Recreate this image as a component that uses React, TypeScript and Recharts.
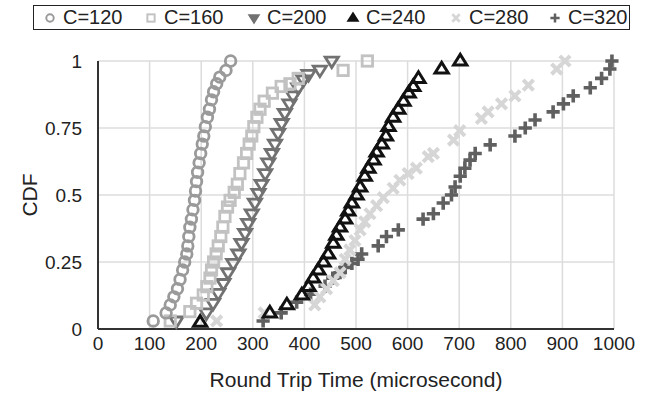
import React from "react";
import { ScatterChart, Scatter, XAxis, YAxis, CartesianGrid } from "recharts";

// CDF samples (x = round trip time in us, y = CDF)
const c120X = [107, 132, 140, 147, 154, 159, 164, 168, 172, 174, 176, 178, 181, 184, 187, 189, 191, 193, 196, 199, 202, 205, 208, 212, 216, 220, 224, 230, 236, 248, 257];
const c120Y = [0.03, 0.06, 0.09, 0.12, 0.15, 0.185, 0.22, 0.25, 0.28, 0.31, 0.345, 0.38, 0.41, 0.445, 0.48, 0.515, 0.55, 0.585, 0.62, 0.655, 0.69, 0.72, 0.755, 0.79, 0.82, 0.855, 0.885, 0.915, 0.94, 0.965, 1];

const c160X = [140, 178, 191, 204, 211, 217, 220, 224, 229, 233, 238, 242, 246, 251, 256, 264, 270, 275, 282, 288, 293, 298, 302, 308, 314, 322, 338, 355, 372, 388, 475, 522];
const c160Y = [0.03, 0.065, 0.096, 0.127, 0.158, 0.19, 0.22, 0.25, 0.28, 0.31, 0.345, 0.38, 0.42, 0.455, 0.48, 0.51, 0.54, 0.58, 0.62, 0.655, 0.69, 0.72, 0.755, 0.79, 0.82, 0.85, 0.88, 0.905, 0.915, 0.935, 0.965, 1];

const c200X = [152, 210, 223, 233, 243, 252, 262, 272, 278, 285, 291, 298, 304, 311, 317, 324, 330, 337, 343, 349, 356, 362, 371, 378, 388, 398, 408, 430, 453];
const c200Y = [0.03, 0.06, 0.096, 0.133, 0.17, 0.21, 0.245, 0.28, 0.32, 0.357, 0.394, 0.43, 0.47, 0.506, 0.54, 0.58, 0.62, 0.655, 0.69, 0.73, 0.767, 0.805, 0.84, 0.87, 0.9, 0.93, 0.95, 0.966, 1];

const c240X = [198, 333, 366, 395, 408, 417, 427, 437, 446, 456, 462, 469, 479, 485, 492, 501, 508, 517, 524, 534, 540, 550, 558, 563, 572, 582, 592, 602, 611, 621, 666, 702];
const c240Y = [0.025, 0.06, 0.09, 0.127, 0.158, 0.19, 0.22, 0.25, 0.28, 0.32, 0.35, 0.38, 0.41, 0.44, 0.47, 0.5, 0.53, 0.57, 0.6, 0.63, 0.66, 0.69, 0.72, 0.755, 0.79, 0.82, 0.85, 0.88, 0.905, 0.935, 0.97, 1];

const c280X = [230, 322, 420, 430, 443, 456, 469, 479, 488, 498, 508, 517, 527, 540, 553, 572, 585, 601, 617, 640, 650, 689, 701, 743, 756, 782, 808, 834, 889, 905];
const c280Y = [0.03, 0.06, 0.09, 0.12, 0.15, 0.18, 0.21, 0.26, 0.295, 0.33, 0.37, 0.4, 0.43, 0.46, 0.49, 0.525, 0.555, 0.58, 0.6, 0.643, 0.655, 0.705, 0.74, 0.786, 0.81, 0.84, 0.87, 0.91, 0.97, 1];

const c320X = [320, 355, 385, 412, 440, 455, 469, 479, 492, 504, 511, 543, 559, 582, 630, 650, 669, 685, 692, 702, 711, 721, 731, 760, 808, 828, 847, 882, 902, 921, 954, 976, 992, 996];
const c320Y = [0.03, 0.06, 0.1, 0.13, 0.16, 0.19, 0.21, 0.23, 0.245, 0.26, 0.28, 0.31, 0.345, 0.37, 0.41, 0.43, 0.47, 0.5, 0.53, 0.57, 0.6, 0.63, 0.655, 0.687, 0.72, 0.75, 0.78, 0.81, 0.84, 0.87, 0.9, 0.935, 0.97, 1];

const xTicks = [0, 100, 200, 300, 400, 500, 600, 700, 800, 900, 1000];
const yTicks = [0, 0.25, 0.5, 0.75, 1];

const FONT = '"Liberation Sans", Arial, Helvetica, sans-serif';

type Kind = "circle" | "square" | "down" | "up" | "cross" | "plus";

const series: { name: string; xs: number[]; ys: number[]; color: string; kind: Kind }[] = [
  { name: "C=120", xs: c120X, ys: c120Y, color: "#9a9a9a", kind: "circle" },
  { name: "C=160", xs: c160X, ys: c160Y, color: "#c2c2c2", kind: "square" },
  { name: "C=200", xs: c200X, ys: c200Y, color: "#727272", kind: "down" },
  { name: "C=240", xs: c240X, ys: c240Y, color: "#111111", kind: "up" },
  { name: "C=280", xs: c280X, ys: c280Y, color: "#d6d6d6", kind: "cross" },
  { name: "C=320", xs: c320X, ys: c320Y, color: "#606060", kind: "plus" },
];

function Marker({ cx, cy, kind, color, s = 1, filled = false }: { cx: number; cy: number; kind: Kind; color: string; s?: number; filled?: boolean }) {
  if (cx == null || cy == null) return null;
  const fill = filled ? color : "none";
  switch (kind) {
    case "circle":
      return <circle cx={cx} cy={cy} r={5.3 * s} fill={fill} stroke={color} strokeWidth={2.8 * s} />;
    case "square":
      return <rect x={cx - 5.2 * s} y={cy - 5.2 * s} width={10.4 * s} height={10.4 * s} fill={fill} stroke={color} strokeWidth={2.8 * s} />;
    case "down": {
      const r = 6.6 * s;
      return <polygon points={`${cx - r},${cy - r * 0.6} ${cx + r},${cy - r * 0.6} ${cx},${cy + r}`} fill={fill} stroke={color} strokeWidth={2.8 * s} strokeLinejoin="miter" />;
    }
    case "up": {
      const r = 6.6 * s;
      return <polygon points={`${cx - r},${cy + r * 0.6} ${cx + r},${cy + r * 0.6} ${cx},${cy - r}`} fill={fill} stroke={color} strokeWidth={3 * s} strokeLinejoin="miter" />;
    }
    case "cross": {
      const r = 5.2 * s;
      return <path d={`M${cx - r},${cy - r}L${cx + r},${cy + r}M${cx - r},${cy + r}L${cx + r},${cy - r}`} stroke={color} strokeWidth={4 * s} />;
    }
    case "plus": {
      const r = 6.6 * s;
      return <path d={`M${cx - r},${cy}L${cx + r},${cy}M${cx},${cy - r}L${cx},${cy + r}`} stroke={color} strokeWidth={3.6 * s} />;
    }
  }
  return null;
}

const legendIconX = [49, 150, 253, 352, 455, 554];

export default function App() {
  return (
    <div style={{ position: "absolute", left: 0, top: 0, width: 646, height: 394, background: "#fff", fontFamily: FONT }}>
      <ScatterChart width={646} height={394} margin={{ top: 61, right: 32, left: 0, bottom: 0 }}>
        <CartesianGrid stroke="#dcdcdc" strokeWidth={1.5} />
        <XAxis
          type="number"
          dataKey="x"
          domain={[0, 1000]}
          ticks={xTicks}
          interval={0}
          height={65}
          axisLine={{ stroke: "#333", strokeWidth: 2 }}
          tickLine={false}
          tick={{ fill: "#222", fontSize: 19, fontFamily: FONT }}
          tickMargin={2}
          label={{ value: "Round Trip Time (microsecond)", position: "insideBottom", offset: 7, fill: "#222", fontSize: 21, fontFamily: FONT }}
        />
        <YAxis
          type="number"
          dataKey="y"
          domain={[0, 1]}
          ticks={yTicks}
          interval={0}
          width={98}
          axisLine={{ stroke: "#333", strokeWidth: 2 }}
          tickLine={false}
          tick={{ fill: "#222", fontSize: 19, fontFamily: FONT }}
          tickMargin={10}
          label={{
            value: "CDF",
            content: () => (
              <text x={29} y={195} transform="rotate(-90 29 195)" textAnchor="middle" dominantBaseline="central" fill="#222" fontSize={21} fontFamily={FONT}>
                CDF
              </text>
            ),
          }}
        />
        {[...series].reverse().map((sr) => (
          <Scatter
            key={sr.name}
            name={sr.name}
            data={sr.xs.map((x, i) => ({ x, y: sr.ys[i] }))}
            isAnimationActive={false}
            shape={(p: any) => <Marker cx={p.cx} cy={p.cy} kind={sr.kind} color={sr.color} />}
          />
        ))}
      </ScatterChart>
      <div style={{ position: "absolute", left: 33, top: 5, width: 595, height: 23, border: "1.5px solid #222" }}>
        {series.map((sr, i) => (
          <React.Fragment key={sr.name}>
            <svg style={{ position: "absolute", left: legendIconX[i] - 33 - 8, top: 3.5 }} width={16} height={16}>
              <Marker cx={8} cy={8} kind={sr.kind} color={sr.color} s={0.7} filled={sr.kind === "down" || sr.kind === "up"} />
            </svg>
            <span style={{ position: "absolute", left: legendIconX[i] - 33 + 13, top: 0, fontSize: 20, lineHeight: "23px", color: "#222", whiteSpace: "nowrap" }}>
              {sr.name}
            </span>
          </React.Fragment>
        ))}
      </div>
    </div>
  );
}
